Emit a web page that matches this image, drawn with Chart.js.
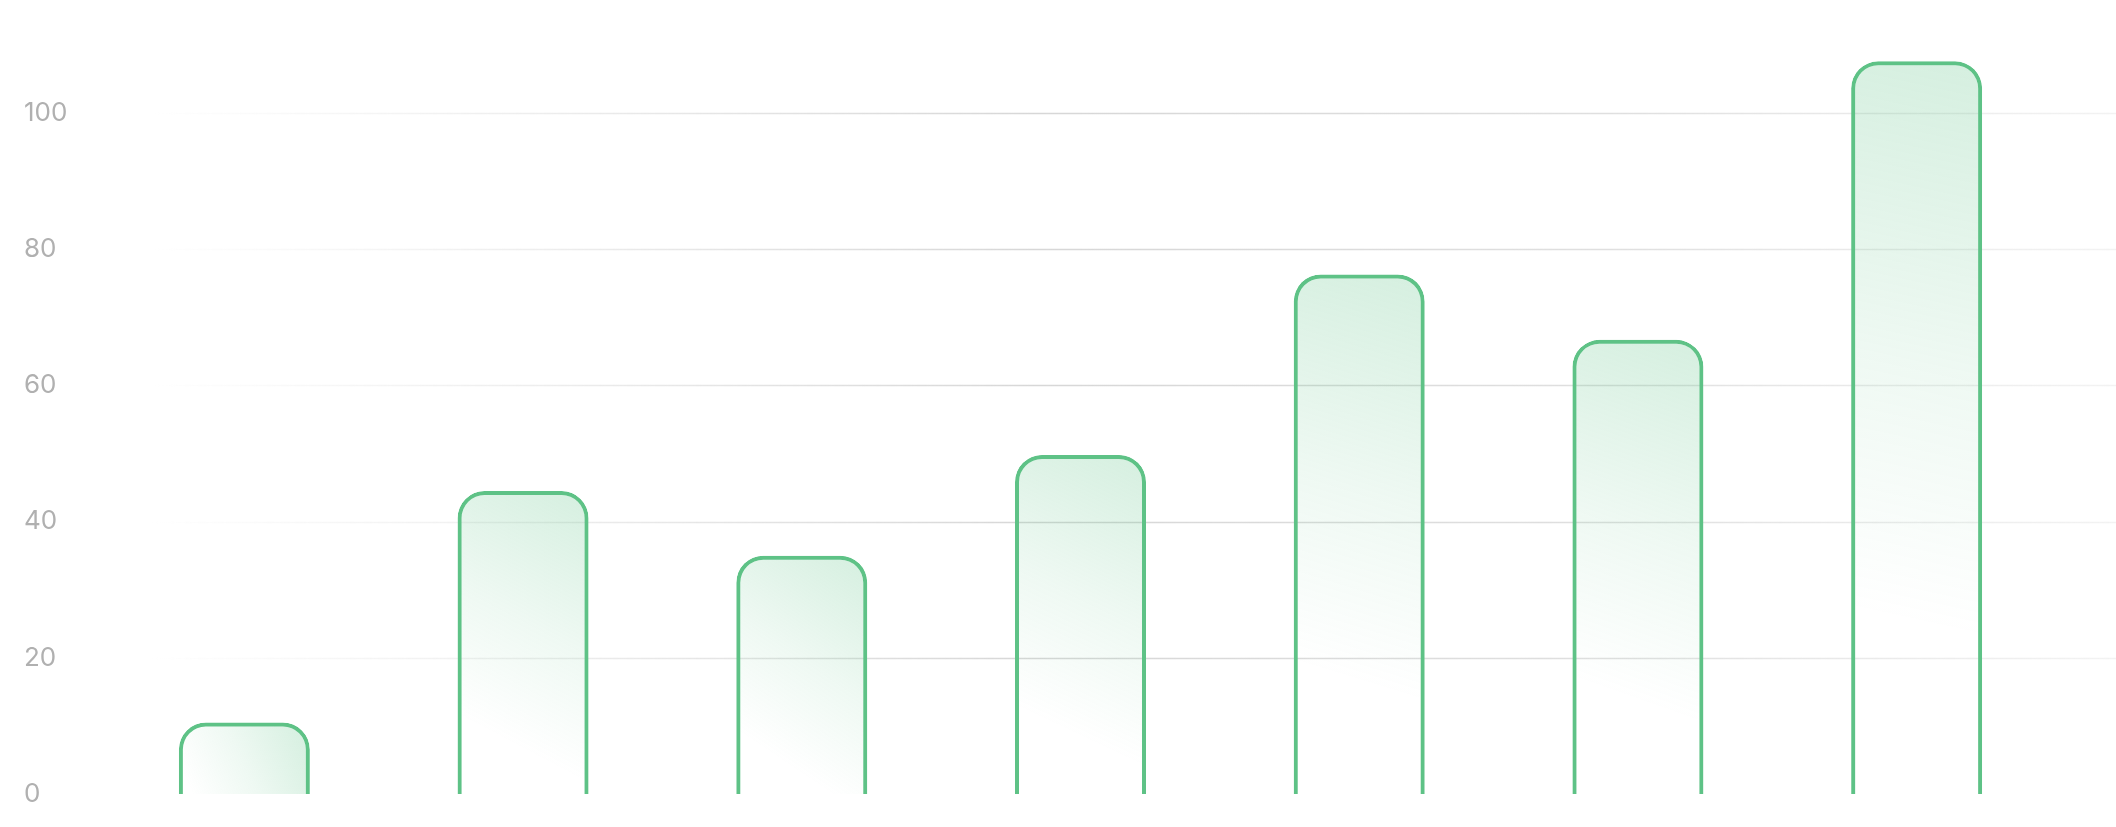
<!DOCTYPE html>
<html><head><meta charset="utf-8">
<script src="https://cdn.jsdelivr.net/npm/chart.js@4"></script>
<style>html,body{margin:0;padding:0;background:#fff;}#wrap{width:2116px;height:827px;}</style>
</head><body><div id="wrap"><canvas id="c"></canvas></div>
<script>
const categories = ['A','B','C','D','E','F','G'];
const values = [10.5, 44.5, 35, 49.8, 76.3, 66.7, 107.6];
const tickValues = [0, 20, 40, 60, 80, 100];
const green = '#5EC286';

const gridPlugin = {
  id: 'fadeGrid',
  beforeDatasetsDraw(chart) {
    const {ctx, scales:{y}} = chart;
    const W = chart.width;
    ctx.save();
    tickValues.forEach(v => {
      if (v === 0) return;
      const py = Math.round(y.getPixelForValue(v)) + 0.5;
      const g = ctx.createLinearGradient(150, 0, W, 0);
      g.addColorStop(0, 'rgba(215,215,215,0)');
      g.addColorStop(0.45, 'rgba(215,215,215,1)');
      g.addColorStop(0.75, 'rgba(220,220,220,0.9)');
      g.addColorStop(1, 'rgba(230,230,230,0.5)');
      ctx.strokeStyle = g; ctx.lineWidth = 1.5;
      ctx.beginPath(); ctx.moveTo(150, py); ctx.lineTo(W, py); ctx.stroke();
    });
    ctx.restore();
  }
};

new Chart(document.getElementById('c'), {
  type: 'bar',
  data: { labels: categories, datasets: [{
    data: values,
    borderColor: green,
    borderWidth: {top: 4, left: 4, right: 4, bottom: 0},
    borderSkipped: 'bottom',
    borderRadius: {topLeft: 27, topRight: 27},
    categoryPercentage: 0.47, barPercentage: 1,
    backgroundColor: (ctx) => {
      const chart = ctx.chart;
      const ys = chart.scales && chart.scales.y, xs = chart.scales && chart.scales.x;
      if (!chart.chartArea || !ys || !xs || ctx.dataIndex === undefined) return 'rgba(94,194,134,0.1)';
      const top = ys.getPixelForValue(values[ctx.dataIndex]);
      const base = ys.getPixelForValue(0);
      const cx = xs.getPixelForValue(ctx.dataIndex);
      if (![top, base, cx].every(Number.isFinite)) return 'rgba(94,194,134,0.1)';
      const h = base - top;
      const g = chart.ctx.createLinearGradient(cx + 60, top, cx - 60, top + h * 0.75);
      g.addColorStop(0, 'rgba(94,194,134,0.26)');
      g.addColorStop(0.55, 'rgba(94,194,134,0.1)');
      g.addColorStop(1, 'rgba(94,194,134,0)');
      return g;
    }
  }]},
  options: {
    responsive: true, maintainAspectRatio: false, animation: false,
    layout: { padding: { left: 24, right: 60, top: 45, bottom: 33 } },
    plugins: { legend: {display:false}, tooltip: {enabled:false} },
    scales: {
      x: { display: false },
      y: {
        min: 0, max: 110,
        afterBuildTicks: (s) => { s.ticks = tickValues.map(v => ({value: v})); },
        afterFit: (s) => { s.width = 81; },
        border: { display: false },
        grid: { display: false },
        ticks: { color: '#b0b0b0', font: { family: 'Inter', size: 26 }, crossAlign: 'far', padding: 0 }
      }
    }
  },
  plugins: [gridPlugin]
});
</script></body></html>
